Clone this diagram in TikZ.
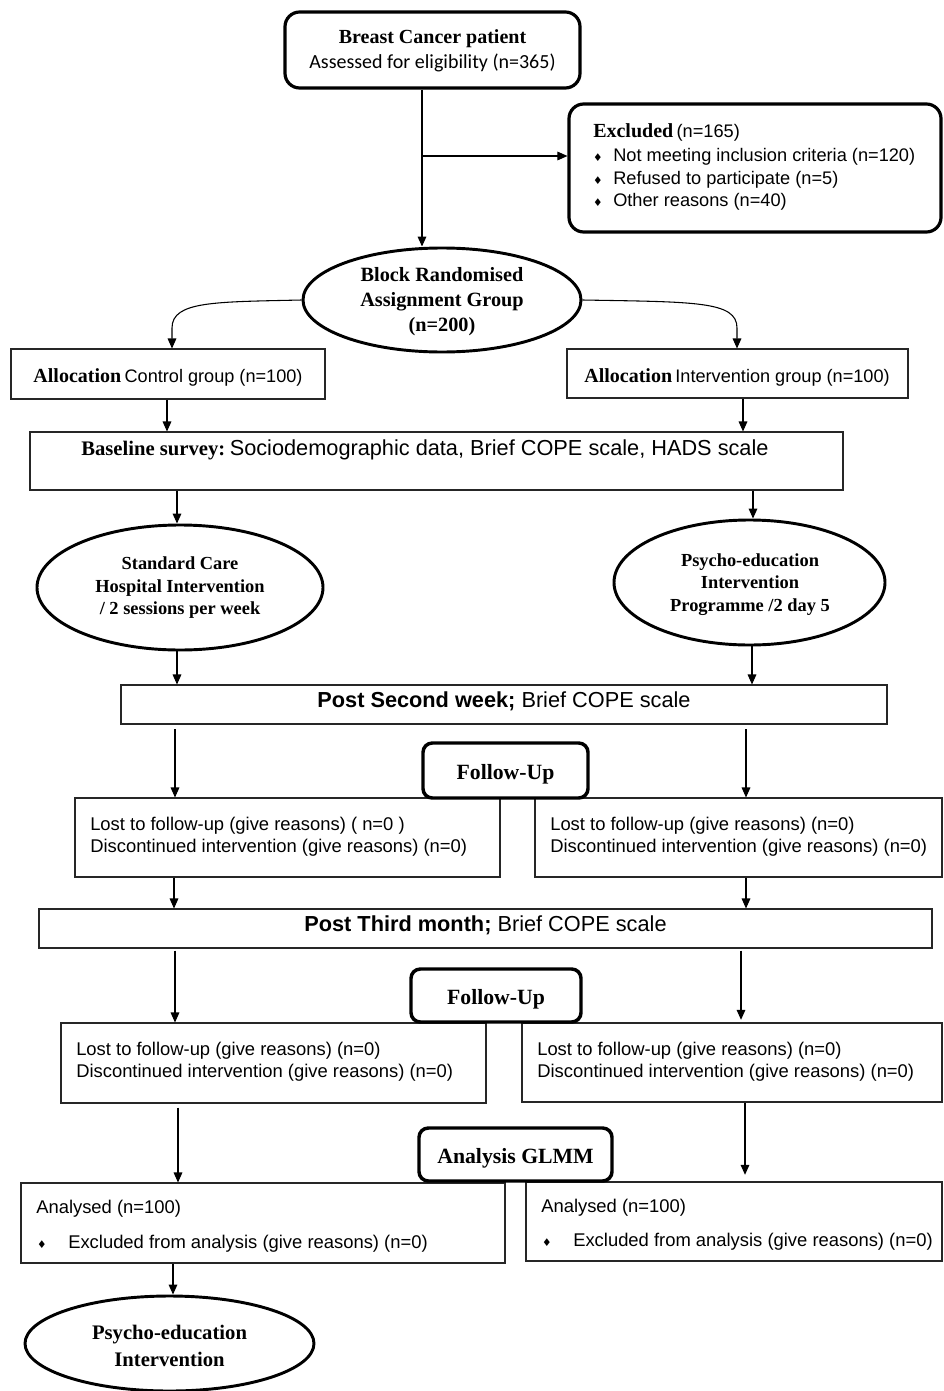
\documentclass[tikz,border=0pt]{standalone}
\usepackage{fontspec}
\setmainfont{Liberation Serif}
\newfontfamily\arialf{Liberation Sans}
\newfontfamily\calib{Carlito}
\newfontfamily\dejav{DejaVu Sans}
\usetikzlibrary{arrows.meta,fit,shapes.geometric}
\newcommand\bulsym{{\dejav\fontsize{8}{8}\selectfont ♦}}
\tikzset{
  tbox/.style={draw=black!85, line width=0.8pt, inner sep=0pt, fill=white},
  rbig/.style={draw=black, line width=2.4pt, rounded corners=11pt, inner sep=0pt, fill=white},
  rsmall/.style={draw=black, line width=2.6pt, rounded corners=7pt, inner sep=0pt, fill=white},
  ell/.style={draw=black, line width=2.2pt, ellipse, inner sep=0pt, fill=white},
  arr/.style={-{Triangle[length=7.5pt,width=6.5pt]}, line width=0.8pt, black},
  ln/.style={line width=0.8pt, black},
  txt/.style={inner sep=0pt, align=center, yshift=-1.2pt},
  body/.style={font=\arialf\fontsize{13.8}{16.5}\selectfont},
  sertitle/.style={font=\bfseries\fontsize{15.2}{18.75}\selectfont},
}
\begin{document}
\begin{tikzpicture}[x=0.75pt,y=-0.75pt]
\useasboundingbox (0,0) rectangle (943,1391);

% ---------- boxes ----------
\node[rbig, fit={(285,12) (580,88)}] (top) {};
\node[rbig, fit={(569,104) (941,232)}] (excl) {};
\node[ell, minimum width=208.5pt, minimum height=78pt] (ell1) at (442,300) {};
\node[tbox, fit={(11,349) (325,399)}] (a1) {};
\node[tbox, fit={(567,349) (908,398)}] (a2) {};
\node[tbox, fit={(30,432) (843,490)}] (base) {};
\node[ell, minimum width=214.5pt, minimum height=93.75pt] (ell2l) at (180,587.5) {};
\node[ell, minimum width=203.25pt, minimum height=93.75pt] (ell2r) at (749.5,582.5) {};
\node[tbox, fit={(121,685) (887,724)}] (post2) {};
\node[tbox, fit={(75,798) (500,877)}] (fu1l) {};
\node[tbox, fit={(535,798) (942,877)}] (fu1r) {};
\node[rsmall, fit={(423,743) (588,798)}] (fup1) {};
\node[tbox, fit={(39,909) (932,948)}] (post3) {};
\node[tbox, fit={(61,1023) (486,1103)}] (fu2l) {};
\node[tbox, fit={(522,1023) (942,1102)}] (fu2r) {};
\node[rsmall, fit={(411,969) (581,1022)}] (fup2) {};
\node[tbox, fit={(21,1183) (505,1263)}] (anl) {};
\node[tbox, fit={(526,1182) (942,1261)}] (anr) {};
\node[rsmall, fit={(419,1128) (612,1181)}] (glmm) {};
\node[ell, minimum width=216.75pt, minimum height=71.25pt] (ell3) at (169.5,1343.5) {};

% ---------- texts ----------
\node[txt, font=\fontsize{15}{18.75}\selectfont] (ttop) at (432.5,49.5)
  {{\bfseries Breast Cancer patient}\\{\calib Assessed for eligibility (n=365)}};

\node[txt, anchor=west] (tex0) at (593,131)
  {{\bfseries\fontsize{15}{18}\selectfont Excluded} {\arialf\fontsize{13.65}{16}\selectfont (n=165)}};
\node[txt, anchor=center] (bx1) at (598,156) {\bulsym};
\node[txt, anchor=center] (bx2) at (598,179) {\bulsym};
\node[txt, anchor=center] (bx3) at (598,201) {\bulsym};
\node[txt, anchor=west, font=\arialf\fontsize{13.65}{16}\selectfont] (tex1) at (613,155) {Not meeting inclusion criteria (n=120)};
\node[txt, anchor=west, font=\arialf\fontsize{13.65}{16}\selectfont] (tex2) at (613,178) {Refused to participate (n=5)};
\node[txt, anchor=west, font=\arialf\fontsize{13.65}{16}\selectfont] (tex3) at (613,200) {Other reasons (n=40)};

\node[txt, sertitle] (tell1) at (442,300)
  {Block Randomised\\Assignment Group\\(n=200)};

\node[txt] (ta1) at (168,376)
  {{\bfseries\fontsize{15}{18}\selectfont Allocation} {\arialf\fontsize{13.6}{16}\selectfont Control group (n=100)}};
\node[txt] (ta2) at (737,376)
  {{\bfseries\fontsize{15}{18}\selectfont Allocation} {\arialf\fontsize{13.6}{16}\selectfont Intervention group (n=100)}};

\node[txt, anchor=west] (tbase) at (81,448)
  {{\bfseries\fontsize{15.5}{18}\selectfont Baseline survey:} {\arialf\fontsize{16.3}{19}\selectfont Sociodemographic data, Brief COPE scale, HADS scale}};

\node[txt, font=\bfseries\fontsize{13.8}{16.9}\selectfont] (tell2l) at (180,586)
  {Standard Care\\Hospital Intervention\\/ 2 sessions per week};
\node[txt, font=\bfseries\fontsize{13.8}{16.9}\selectfont] (tell2r) at (750,583)
  {Psycho-education\\Intervention\\Programme /2 day 5};

\node[txt, font=\arialf\fontsize{16.3}{19}\selectfont] (tpost2) at (504,700)
  {{\bfseries Post Second week;} Brief COPE scale};
\node[txt, font=\bfseries\fontsize{16.3}{19}\selectfont] (tfup1) at (505.5,773) {Follow-Up};
\node[txt, anchor=west, align=left, body] (tfu1l) at (90,835)
  {Lost to follow-up (give reasons) ( n=0 )\\Discontinued intervention (give reasons) (n=0)};
\node[txt, anchor=west, align=left, body] (tfu1r) at (550,835)
  {Lost to follow-up (give reasons) (n=0)\\Discontinued intervention (give reasons) (n=0)};

\node[txt, font=\arialf\fontsize{16.3}{19}\selectfont] (tpost3) at (485.5,924)
  {{\bfseries Post Third month;} Brief COPE scale};
\node[txt, font=\bfseries\fontsize{16.3}{19}\selectfont] (tfup2) at (496,998) {Follow-Up};
\node[txt, anchor=west, align=left, body] (tfu2l) at (76,1060.5)
  {Lost to follow-up (give reasons) (n=0)\\Discontinued intervention (give reasons) (n=0)};
\node[txt, anchor=west, align=left, body] (tfu2r) at (537,1060.5)
  {Lost to follow-up (give reasons) (n=0)\\Discontinued intervention (give reasons) (n=0)};

\node[txt, font=\bfseries\fontsize{16.3}{19}\selectfont] (tglmm) at (515.5,1157) {Analysis GLMM};
\node[txt, anchor=west, body] (tanl1) at (36,1207) {Analysed (n=100)};
\node[txt, anchor=center] (bal) at (42,1243) {\bulsym};
\node[txt, anchor=west, body] (tanl2) at (68,1242) {Excluded from analysis (give reasons) (n=0)};
\node[txt, anchor=west, body] (tanr1) at (541,1206) {Analysed (n=100)};
\node[txt, anchor=center] (bar) at (547,1241) {\bulsym};
\node[txt, anchor=west, body] (tanr2) at (573,1240) {Excluded from analysis (give reasons) (n=0)};

\node[txt, font=\bfseries\fontsize{15.5}{20.25}\selectfont] (tell3) at (169.5,1344.5)
  {Psycho-education\\Intervention};

% ---------- connectors ----------
\coordinate (c1) at (422,156);
\draw[ln] (top.south -| c1) -- (c1);
\draw[arr] (c1) -- (c1 |- ell1.north);
\draw[arr] (c1) -- (excl.west |- c1);

\coordinate (k1) at (172,328);
\draw[arr] (ell1.west) .. controls (215,302) and (172,301) .. (k1) -- (k1 |- a1.north);
\coordinate (k2) at (737,328);
\draw[arr] (ell1.east) .. controls (695,302) and (737,301) .. (k2) -- (k2 |- a2.north);

\coordinate (x167) at (167,0);
\coordinate (x743) at (743,0);
\draw[arr] (a1.south -| x167) -- (base.north -| x167);
\draw[arr] (a2.south -| x743) -- (base.north -| x743);

\coordinate (x177) at (177,0);
\coordinate (x753) at (753,0);
\coordinate (x752) at (752,0);
\draw[arr] (base.south -| x177) -- (ell2l.north -| x177);
\draw[arr] (base.south -| x753) -- (ell2r.north -| x753);
\draw[arr] (ell2l.south -| x177) -- (post2.north -| x177);
\draw[arr] (ell2r.south -| x752) -- (post2.north -| x752);

\coordinate (x175) at (175,0);
\coordinate (x746) at (746,0);
\draw[arr, shorten <=3.5pt] (post2.south -| x175) -- (fu1l.north -| x175);
\draw[arr, shorten <=3.5pt] (post2.south -| x746) -- (fu1r.north -| x746);

\coordinate (x174) at (174,0);
\draw[arr] (fu1l.south -| x174) -- (post3.north -| x174);
\draw[arr] (fu1r.south -| x746) -- (post3.north -| x746);

\coordinate (x741) at (741,0);
\draw[arr, shorten <=1.5pt] (post3.south -| x175) -- (fu2l.north -| x175);
\draw[arr, shorten <=1.5pt, shorten >=2pt] (post3.south -| x741) -- (fu2r.north -| x741);

\coordinate (x178) at (178,0);
\coordinate (x745) at (745,0);
\draw[arr, shorten <=3pt] (fu2l.south -| x178) -- (anl.north -| x178);
\draw[arr, shorten >=5pt] (fu2r.south -| x745) -- (anr.north -| x745);

\coordinate (x173) at (173,0);
\draw[arr] (anl.south -| x173) -- (ell3.north -| x173);
\end{tikzpicture}
\end{document}
